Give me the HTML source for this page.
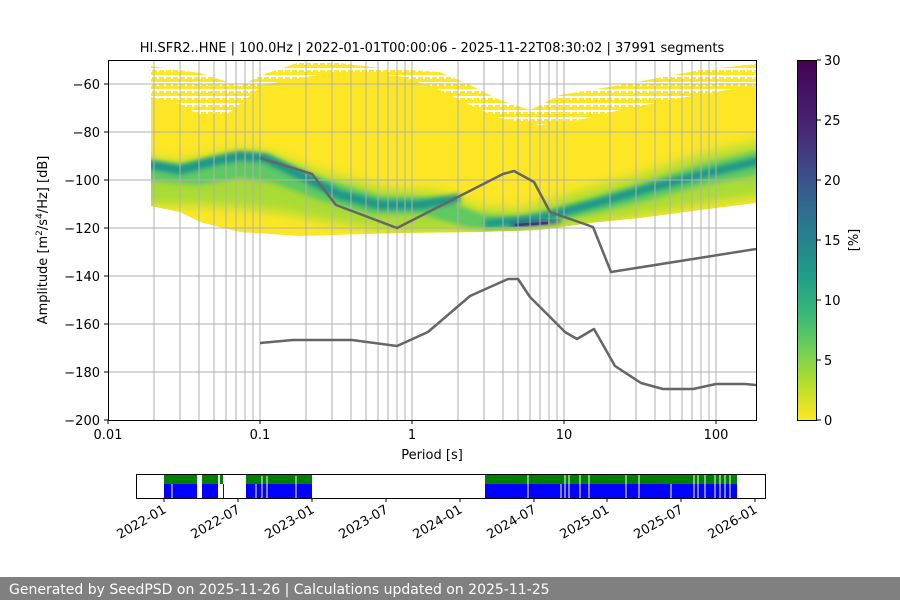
<!DOCTYPE html>
<html><head><meta charset="utf-8"><style>
body{margin:0;background:#fff;width:900px;height:600px;overflow:hidden;font-family:"DejaVu Sans","Liberation Sans",sans-serif}
svg text{font-family:"DejaVu Sans","Liberation Sans",sans-serif;fill:#000}
</style></head><body>
<svg width="900" height="600" viewBox="0 0 900 600" xmlns="http://www.w3.org/2000/svg">
<defs>
<linearGradient id="vir" x1="0" y1="1" x2="0" y2="0">
<stop offset="0" stop-color="#fde725"/><stop offset="0.1" stop-color="#b5de2b"/><stop offset="0.2" stop-color="#6ece58"/><stop offset="0.3" stop-color="#35b779"/><stop offset="0.4" stop-color="#1f9e89"/><stop offset="0.5" stop-color="#26828e"/><stop offset="0.6" stop-color="#31688e"/><stop offset="0.7" stop-color="#3e4989"/><stop offset="0.8" stop-color="#482878"/><stop offset="1" stop-color="#440154"/>
</linearGradient>
<pattern id="sp" width="7" height="7" patternUnits="userSpaceOnUse"><rect width="7" height="7" fill="#fde725"/><rect y="5" width="7" height="2" fill="#fff"/><rect x="3" y="0" width="2" height="2" fill="#fff"/></pattern>
<filter id="bl" x="-10%" y="-50%" width="120%" height="200%"><feGaussianBlur stdDeviation="6"/></filter>
<filter id="bl2" x="-10%" y="-50%" width="120%" height="200%"><feGaussianBlur stdDeviation="2.5"/></filter>
<clipPath id="ax"><rect x="108" y="60" width="648" height="360"/></clipPath>
<clipPath id="sol"><polygon points="151,97 180,104 200,115 225,116 245,100 262,85 300,78 340,72 400,76 440,90 470,105 500,118 540,125 580,120 620,110 680,98 756,85 756,203 700,210 640,218 590,223 540,230 480,232 400,233 300,236 240,232 200,222 180,212 151,206"/></clipPath>
</defs>

<text x="432" y="52" font-size="13" text-anchor="middle">HI.SFR2..HNE | 100.0Hz | 2022-01-01T00:00:06 - 2025-11-22T08:30:02 | 37991 segments</text>

<g clip-path="url(#ax)">
<polygon fill="url(#sp)" points="151,66 200,73 240,86 262,75 300,62 330,62 380,68 440,72 470,85 500,100 530,110 560,95 620,85 700,70 756,64 756,86 680,99 620,111 580,121 540,126 500,119 470,106 440,91 400,77 340,73 300,79 262,86 245,101 225,117 200,116 180,105 151,98"/>
<polygon fill="#fde725" points="151,97 180,104 200,115 225,116 245,100 262,85 300,78 340,72 400,76 440,90 470,105 500,118 540,125 580,120 620,110 680,98 756,85 756,203 700,210 640,218 590,223 540,230 480,232 400,233 300,236 240,232 200,222 180,212 151,206"/>
<g clip-path="url(#sol)">
<polygon fill="#a8db34" filter="url(#bl)" points="140,158 180,162 240,150 270,154 320,172 380,188 440,192 480,208 520,210 580,192 640,175 700,155 770,140 770,195 700,205 640,215 580,226 520,234 460,232 400,232 330,222 280,212 240,208 200,205 140,205"/>
<polygon fill="#5ec962" filter="url(#bl2)" points="140,160 180,165 240,152 270,156 320,178 380,196 440,198 480,214 520,218 580,202 640,184 700,165 770,148 770,172 700,186 640,202 580,216 520,229 470,228 420,214 370,214 320,200 270,182 240,178 200,185 140,180"/>
<polyline fill="none" stroke="#1f968b" stroke-width="9" filter="url(#bl2)" points="140,163 180,170 210,162 240,156 265,158 300,175 340,195 380,205 420,205 460,198"/>
<polyline fill="none" stroke="#1f968b" stroke-width="8" filter="url(#bl2)" points="485,224 540,218 600,202 650,188 700,175 770,158"/>
<polyline fill="none" stroke="#3b528b" stroke-width="4" filter="url(#bl2)" points="510,225 560,221"/>
<polyline fill="none" stroke="#46327e" stroke-width="2.5" points="515,225 548,223"/>
</g>
</g>

<!-- grid -->
<g stroke="#b0b0b0" stroke-width="1">
<line x1="154" y1="60" x2="154" y2="420"/><line x1="180" y1="60" x2="180" y2="420"/><line x1="199" y1="60" x2="199" y2="420"/><line x1="214" y1="60" x2="214" y2="420"/><line x1="226" y1="60" x2="226" y2="420"/><line x1="236" y1="60" x2="236" y2="420"/><line x1="245" y1="60" x2="245" y2="420"/><line x1="253" y1="60" x2="253" y2="420"/><line x1="260" y1="60" x2="260" y2="420"/>
<line x1="306" y1="60" x2="306" y2="420"/><line x1="332" y1="60" x2="332" y2="420"/><line x1="351" y1="60" x2="351" y2="420"/><line x1="366" y1="60" x2="366" y2="420"/><line x1="378" y1="60" x2="378" y2="420"/><line x1="388" y1="60" x2="388" y2="420"/><line x1="397" y1="60" x2="397" y2="420"/><line x1="405" y1="60" x2="405" y2="420"/><line x1="412" y1="60" x2="412" y2="420"/>
<line x1="458" y1="60" x2="458" y2="420"/><line x1="484" y1="60" x2="484" y2="420"/><line x1="503" y1="60" x2="503" y2="420"/><line x1="518" y1="60" x2="518" y2="420"/><line x1="530" y1="60" x2="530" y2="420"/><line x1="540" y1="60" x2="540" y2="420"/><line x1="549" y1="60" x2="549" y2="420"/><line x1="557" y1="60" x2="557" y2="420"/><line x1="564" y1="60" x2="564" y2="420"/>
<line x1="610" y1="60" x2="610" y2="420"/><line x1="636" y1="60" x2="636" y2="420"/><line x1="655" y1="60" x2="655" y2="420"/><line x1="670" y1="60" x2="670" y2="420"/><line x1="682" y1="60" x2="682" y2="420"/><line x1="692" y1="60" x2="692" y2="420"/><line x1="701" y1="60" x2="701" y2="420"/><line x1="709" y1="60" x2="709" y2="420"/><line x1="716" y1="60" x2="716" y2="420"/>
<line x1="108" y1="84" x2="756" y2="84"/><line x1="108" y1="132" x2="756" y2="132"/><line x1="108" y1="180" x2="756" y2="180"/><line x1="108" y1="228" x2="756" y2="228"/><line x1="108" y1="276" x2="756" y2="276"/><line x1="108" y1="324" x2="756" y2="324"/><line x1="108" y1="372" x2="756" y2="372"/>
</g>

<!-- noise models -->
<g fill="none" stroke="#666" stroke-width="2.5" stroke-linejoin="round" clip-path="url(#ax)">
<polyline points="260,158 312,174 336,205 397,228 503,174 514,171 534,182 550,212 593,227 611,272 756,249"/>
<polyline points="260,343 293,340 352,340 397,346 428,332 470,296 508,279 518,279 530,297 565,332 577,339 594,329 615,366 641,383 663,389 693,389 716,384 745,384 756,385"/>
</g>

<rect x="108.5" y="60.5" width="648" height="360" fill="none" stroke="#000" stroke-width="1"/>

<g stroke="#000"><line x1="104" y1="84" x2="108" y2="84"/><line x1="104" y1="132" x2="108" y2="132"/><line x1="104" y1="180" x2="108" y2="180"/><line x1="104" y1="228" x2="108" y2="228"/><line x1="104" y1="276" x2="108" y2="276"/><line x1="104" y1="324" x2="108" y2="324"/><line x1="104" y1="372" x2="108" y2="372"/><line x1="104" y1="420" x2="108" y2="420"/>
<line x1="108" y1="420" x2="108" y2="424"/><line x1="260" y1="420" x2="260" y2="424"/><line x1="412" y1="420" x2="412" y2="424"/><line x1="564" y1="420" x2="564" y2="424"/><line x1="716" y1="420" x2="716" y2="424"/></g>
<g font-size="13" text-anchor="end">
<text x="100" y="89">−60</text><text x="100" y="137">−80</text><text x="100" y="185">−100</text><text x="100" y="233">−120</text><text x="100" y="281">−140</text><text x="100" y="329">−160</text><text x="100" y="377">−180</text><text x="100" y="425">−200</text>
</g>
<g font-size="13" text-anchor="middle">
<text x="108" y="439">0.01</text><text x="260" y="439">0.1</text><text x="412" y="439">1</text><text x="564" y="439">10</text><text x="716" y="439">100</text>
<text x="432" y="459">Period [s]</text>
</g>
<text transform="translate(47,240) rotate(-90)" font-size="13" text-anchor="middle">Amplitude [m<tspan dy="-5" font-size="9">2</tspan><tspan dy="5">/s</tspan><tspan dy="-5" font-size="9">4</tspan><tspan dy="5">/Hz] [dB]</tspan></text>

<rect x="797" y="60" width="19" height="360" fill="url(#vir)"/>
<rect x="797.5" y="60.5" width="19" height="360" fill="none" stroke="#000"/>
<g stroke="#000"><line x1="817" y1="60" x2="821" y2="60"/><line x1="817" y1="120" x2="821" y2="120"/><line x1="817" y1="180" x2="821" y2="180"/><line x1="817" y1="240" x2="821" y2="240"/><line x1="817" y1="300" x2="821" y2="300"/><line x1="817" y1="360" x2="821" y2="360"/><line x1="817" y1="420" x2="821" y2="420"/></g>
<g font-size="13"><text x="824" y="65">30</text><text x="824" y="125">25</text><text x="824" y="185">20</text><text x="824" y="245">15</text><text x="824" y="305">10</text><text x="824" y="365">5</text><text x="824" y="425">0</text></g>
<text transform="translate(858,240) rotate(-90)" font-size="13" text-anchor="middle">[%]</text>

<g>
<rect x="164" y="474" width="33" height="10" fill="#008000"/><rect x="164" y="484" width="33" height="14" fill="#0000ff"/>
<rect x="202" y="474" width="16" height="10" fill="#008000"/><rect x="202" y="484" width="16" height="14" fill="#0000ff"/>
<rect x="220" y="474" width="3" height="10" fill="#008000"/><rect x="223" y="484" width="1" height="14" fill="#0000ff"/>
<rect x="246" y="474" width="66" height="10" fill="#008000"/><rect x="246" y="484" width="66" height="14" fill="#0000ff"/>
<rect x="485" y="474" width="252" height="10" fill="#008000"/><rect x="485" y="484" width="252" height="14" fill="#0000ff"/>
<g stroke="#fff" stroke-width="1">
<line x1="172" y1="484" x2="172" y2="498"/><line x1="256" y1="484" x2="256" y2="498"/><line x1="262" y1="476" x2="262" y2="498"/><line x1="267" y1="476" x2="267" y2="498"/><line x1="296" y1="476" x2="296" y2="498"/>
<line x1="528" y1="474" x2="528" y2="498"/><line x1="561" y1="484" x2="561" y2="498"/><line x1="565" y1="474" x2="565" y2="498"/><line x1="569" y1="474" x2="569" y2="498"/><line x1="580" y1="474" x2="580" y2="498"/><line x1="589" y1="474" x2="589" y2="498"/><line x1="626" y1="474" x2="626" y2="498"/><line x1="639" y1="474" x2="639" y2="498"/><line x1="671" y1="484" x2="671" y2="498"/><line x1="694" y1="474" x2="694" y2="498"/><line x1="698" y1="474" x2="698" y2="498"/><line x1="705" y1="474" x2="705" y2="498"/><line x1="715" y1="474" x2="715" y2="498"/><line x1="720" y1="474" x2="720" y2="498"/><line x1="725" y1="474" x2="725" y2="498"/><line x1="730" y1="474" x2="730" y2="498"/>
</g>
</g>
<rect x="136.5" y="474.5" width="629" height="24" fill="none" stroke="#000"/>
<g stroke="#000"><line x1="164" y1="498" x2="164" y2="502"/><line x1="238" y1="498" x2="238" y2="502"/><line x1="312" y1="498" x2="312" y2="502"/><line x1="386" y1="498" x2="386" y2="502"/><line x1="460" y1="498" x2="460" y2="502"/><line x1="534" y1="498" x2="534" y2="502"/><line x1="607" y1="498" x2="607" y2="502"/><line x1="681" y1="498" x2="681" y2="502"/><line x1="755" y1="498" x2="755" y2="502"/></g>
<g font-size="13" text-anchor="end">
<text transform="translate(167,512) rotate(-30)">2022-01</text>
<text transform="translate(241,512) rotate(-30)">2022-07</text>
<text transform="translate(315,512) rotate(-30)">2023-01</text>
<text transform="translate(389,512) rotate(-30)">2023-07</text>
<text transform="translate(463,512) rotate(-30)">2024-01</text>
<text transform="translate(537,512) rotate(-30)">2024-07</text>
<text transform="translate(610,512) rotate(-30)">2025-01</text>
<text transform="translate(684,512) rotate(-30)">2025-07</text>
<text transform="translate(758,512) rotate(-30)">2026-01</text>
</g>

<rect x="0" y="577" width="900" height="23" fill="#808080"/>
<text x="9" y="594" font-size="14" style="fill:#fff">Generated by SeedPSD on 2025-11-26 | Calculations updated on 2025-11-25</text>
</svg>
</body></html>
